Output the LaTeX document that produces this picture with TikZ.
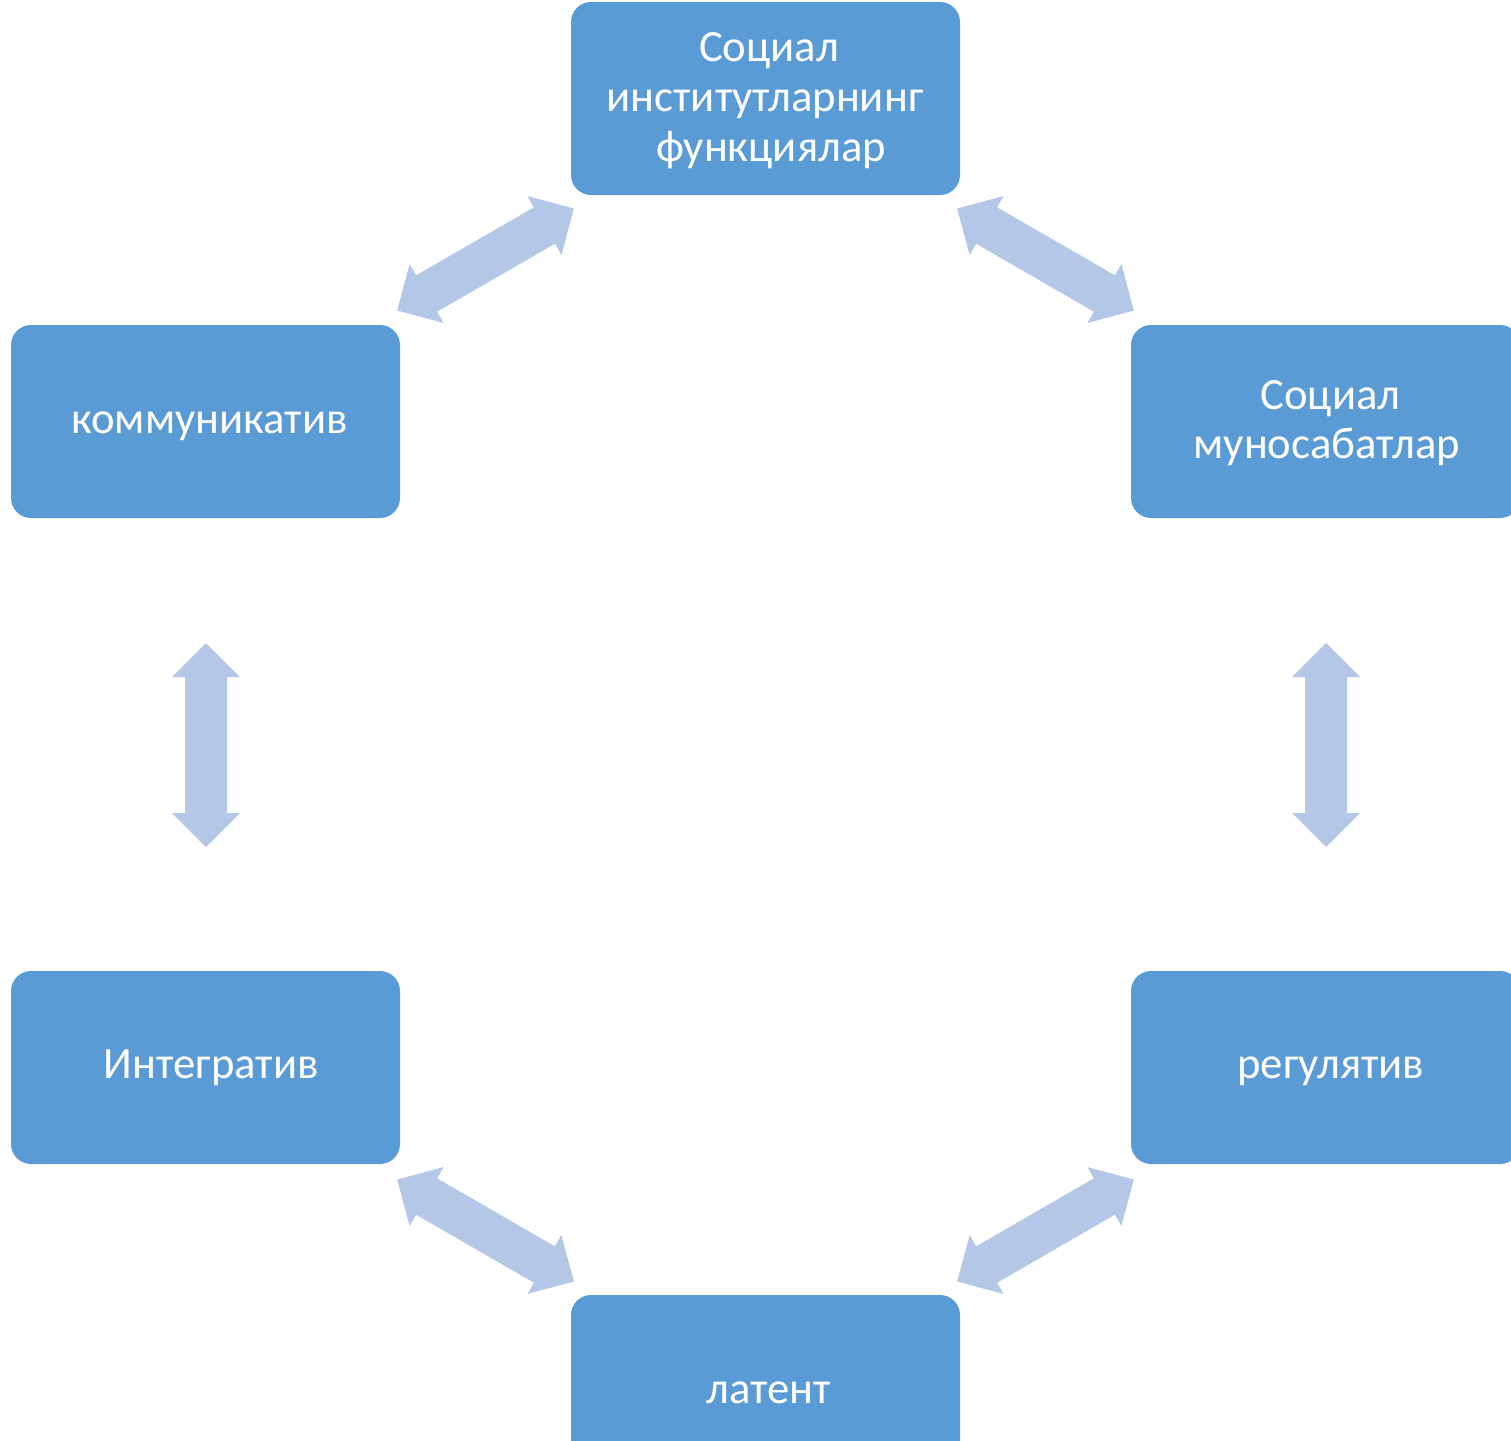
\documentclass[tikz,border=0pt]{standalone}
\usepackage{fontspec}
\setmainfont{Carlito}
\definecolor{boxblue}{HTML}{5B9BD5}
\definecolor{arrowblue}{HTML}{B4C7E7}
\tikzset{
  fbox/.style={fill=boxblue, rounded corners=20pt, minimum width=389pt, minimum height=193pt,
    inner sep=0pt},
  ftext/.style={text=white, inner sep=0pt, anchor=base, font=\fontsize{44.7}{50}\selectfont},
  dblarrow/.pic={
    \fill[arrowblue] (-102,0) -- (-68,34) -- (-68,21) -- (68,21) -- (68,34) -- (102,0)
      -- (68,-34) -- (68,-21) -- (-68,-21) -- (-68,-34) -- cycle;
  }
}
\begin{document}
\begin{tikzpicture}[x=1pt,y=-1pt]
\useasboundingbox (0,0) rectangle (1511,1440);
\clip (0,0) rectangle (1511,1440);
\fill[white] (0,0) rectangle (1511,1440);
% boxes
\node[fbox] (top) at (765.5,98.5) {};
\node[fbox] (kom) at (205.5,421.5) {};
\node[fbox] (sm)  at (1325.5,421.5) {};
\node[fbox] (int) at (205.5,1067.5) {};
\node[fbox] (reg) at (1325.5,1067.5) {};
\node[fbox] (lat) at (765.5,1391.5) {};
% texts (placed on their baselines)
\node[ftext] (top1) at (769,61.7)   {Социал};
\node[ftext] (top2) at (765,111.7)  {институтларнинг};
\node[ftext] (top3) at (771,161.7)  {функциялар};
\node[ftext] (sm1)  at (1330.5,409.3) {Социал};
\node[ftext] (sm2)  at (1327,458.7)   {муносабатлар};
\node[ftext] (komt) at (209.5,433.3)  {коммуникатив};
\node[ftext] (intt) at (211.3,1078.3) {Интегратив};
\node[ftext] (regt) at (1330.7,1078.3){регулятив};
\node[ftext] (latt) at (768.5,1403.3) {латент};
% arrows
\pic[rotate=30]  at (485.5,259.5)  {dblarrow};
\pic[rotate=-30] at (1045.5,259.5) {dblarrow};
\pic[rotate=90]  at (206,745)      {dblarrow};
\pic[rotate=90]  at (1326,745)     {dblarrow};
\pic[rotate=-30] at (485.5,1230.5) {dblarrow};
\pic[rotate=30]  at (1045.5,1230.5){dblarrow};
\end{tikzpicture}
\end{document}
